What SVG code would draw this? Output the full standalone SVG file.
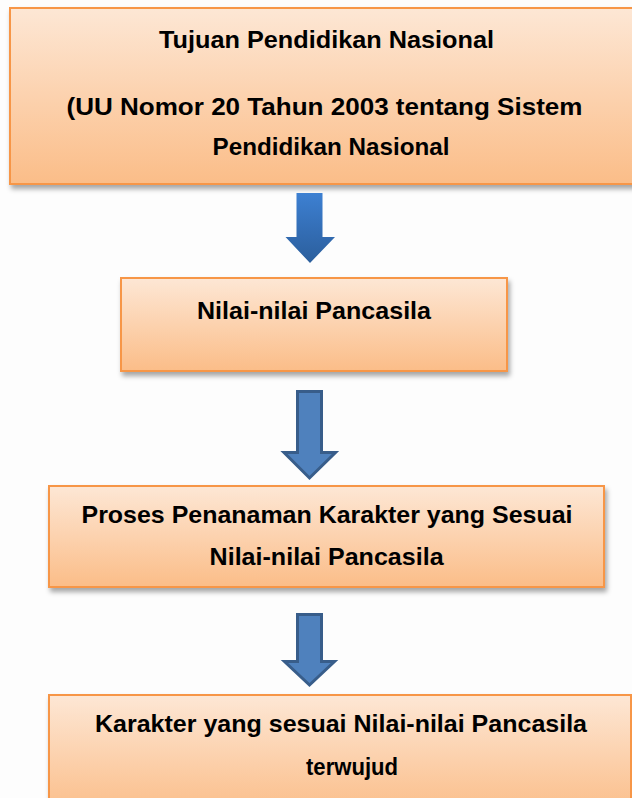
<svg xmlns="http://www.w3.org/2000/svg" width="632" height="798" viewBox="0 0 632 798">
<defs>
<linearGradient id="boxGrad" x1="0" y1="0" x2="0" y2="1">
<stop offset="0" stop-color="#fde7d5"/>
<stop offset="1" stop-color="#fbbd88"/>
</linearGradient>
<linearGradient id="arrowGrad" x1="0" y1="0" x2="0" y2="1">
<stop offset="0" stop-color="#3d80d2"/>
<stop offset="1" stop-color="#2b5e9c"/>
</linearGradient>
<filter id="shadow" x="-10%" y="-10%" width="125%" height="130%">
<feDropShadow dx="2" dy="4" stdDeviation="2.5" flood-color="#000" flood-opacity="0.35"/>
</filter>
</defs>
<style>
.box{fill:url(#boxGrad);stroke:#f79646;stroke-width:2;filter:url(#shadow)}
.t{font-family:"Liberation Sans",Arial,sans-serif;font-weight:bold;font-size:24px;fill:#000}
.arr{fill:#4f81bd;stroke:#385d8a;stroke-width:3;stroke-linejoin:miter}
.arrg{fill:url(#arrowGrad)}
</style>
<rect width="632" height="798" fill="#fdfdfd"/>
<g id="node1">
<rect class="box" x="10" y="8" width="640" height="176"/>
<text class="t" x="159" y="48" textLength="335" lengthAdjust="spacingAndGlyphs">Tujuan Pendidikan Nasional</text>
<text class="t" x="66.5" y="115" textLength="516" lengthAdjust="spacingAndGlyphs">(UU Nomor 20 Tahun 2003 tentang Sistem</text>
<text class="t" x="212.5" y="155" textLength="237" lengthAdjust="spacingAndGlyphs">Pendidikan Nasional</text>
</g>
<g id="node2">
<rect class="box" x="121" y="278" width="386" height="93"/>
<text class="t" x="197" y="319" textLength="234" lengthAdjust="spacingAndGlyphs">Nilai-nilai Pancasila</text>
</g>
<g id="node3">
<rect class="box" x="49" y="486" width="555" height="101"/>
<text class="t" x="81.5" y="523" textLength="491" lengthAdjust="spacingAndGlyphs">Proses Penanaman Karakter yang Sesuai</text>
<text class="t" x="209.6" y="565" textLength="234" lengthAdjust="spacingAndGlyphs">Nilai-nilai Pancasila</text>
</g>
<g id="node4">
<rect class="box" x="49" y="695" width="582" height="120"/>
<text class="t" x="95" y="732" textLength="492" lengthAdjust="spacingAndGlyphs">Karakter yang sesuai Nilai-nilai Pancasila</text>
<text class="t" x="306" y="775" textLength="92" lengthAdjust="spacingAndGlyphs">terwujud</text>
</g>
<g id="connectors">
<path class="arrg" d="M296.5 193 H322.5 V237 H335 L310 263 L285.5 237 H296.5 Z"/>
<path class="arr" d="M297.5 391.5 H321.5 V452.5 H335.5 L309.5 478 L284 452.5 H297.5 Z"/>
<path class="arr" d="M297.5 614.5 H321.5 V661.5 H334.5 L309.5 685 L284.5 661.5 H297.5 Z"/>
</g>
</svg>
